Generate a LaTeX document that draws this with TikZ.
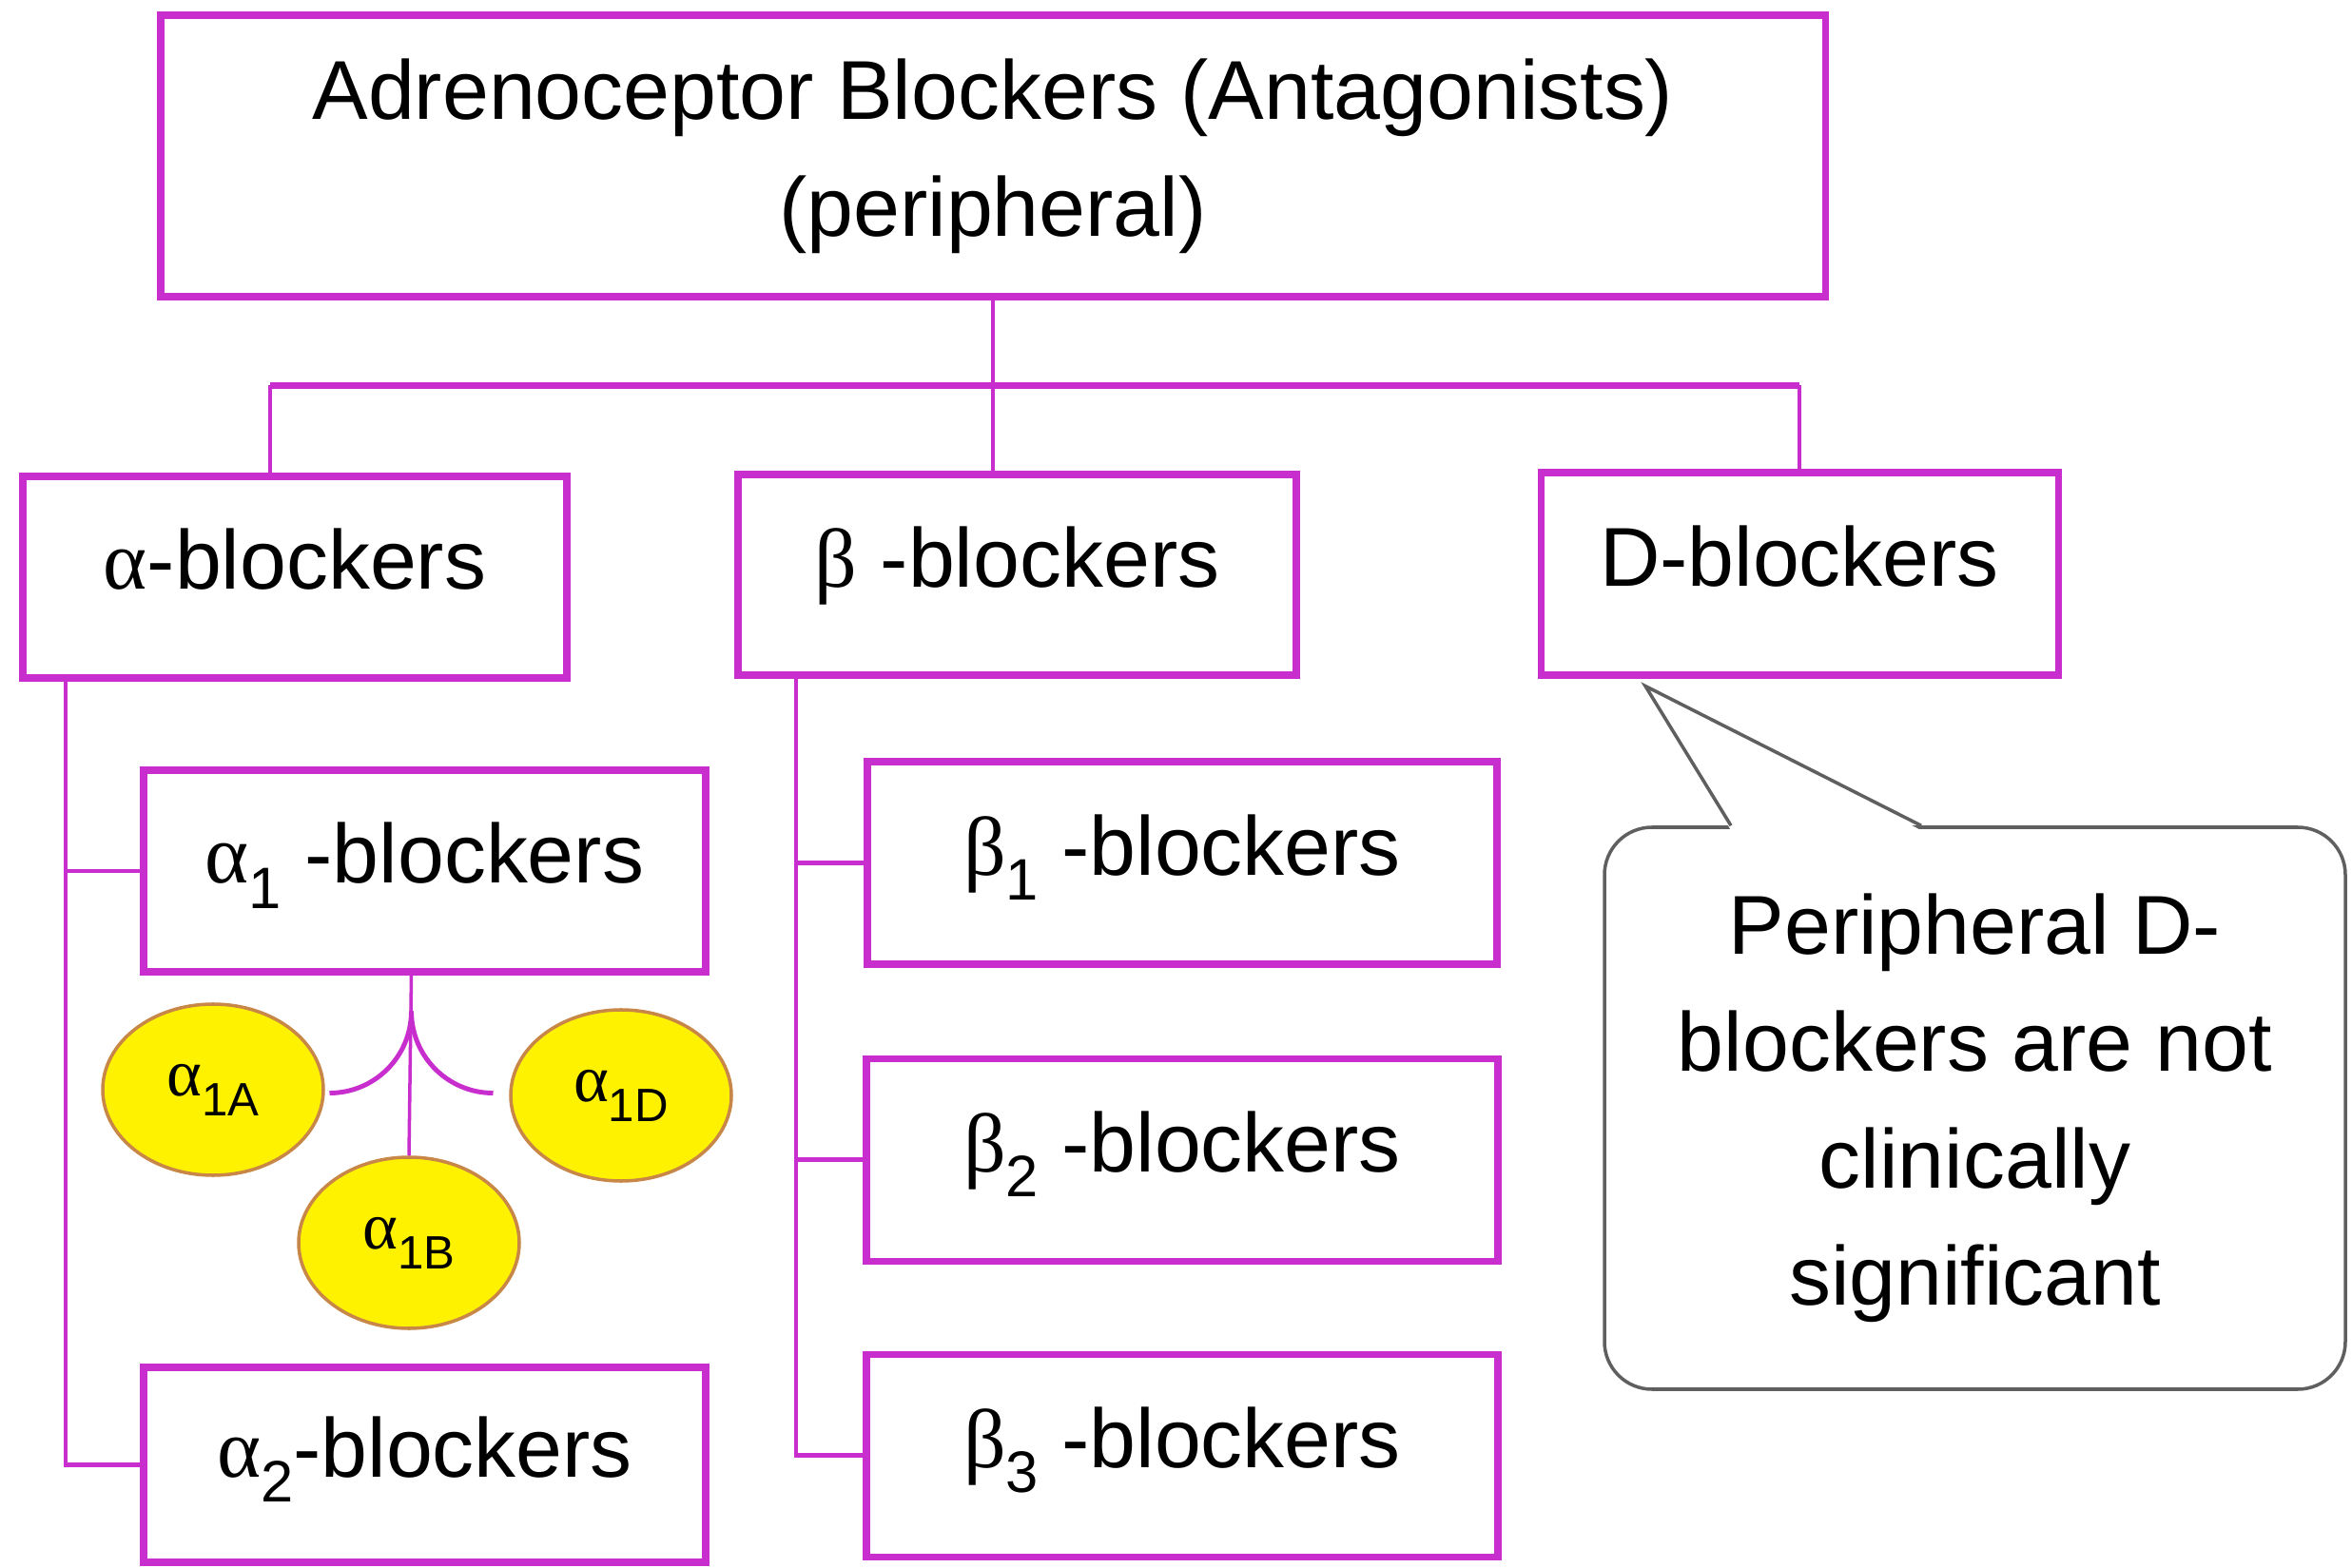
\documentclass[tikz,border=0pt]{standalone}
\usepackage{fontspec}
\setmainfont{Liberation Sans}
\newfontfamily\grk{Liberation Serif}
\usetikzlibrary{positioning, shapes.geometric, calc}

\definecolor{boxmag}{RGB}{200,45,205}
\definecolor{subyellow}{RGB}{255,242,0}
\definecolor{subedge}{RGB}{200,135,70}
\definecolor{notegray}{RGB}{95,95,95}

\newcommand{\alp}{{\grk α}}
\newcommand{\bet}{{\grk β}}
\newcommand{\lo}[1]{\raisebox{-0.3em}{\scalebox{0.7}{#1}}}

\begin{document}
\begin{tikzpicture}[
    node distance = 0.92cm and 1cm,
    headbox/.style = {draw=boxmag, line width=2pt, align=center, minimum width=17.5cm, minimum height=2.96cm, font=\fontsize{25}{35}\selectfont},
    box/.style = {draw=boxmag, line width=2pt, align=center, inner sep=0pt, text height=0.66cm, text depth=0.40cm, font=\fontsize{25}{35}\selectfont},
    receptor/.style = {ellipse, draw=subedge, line width=1pt, fill=subyellow, minimum width=2.32cm, minimum height=1.80cm, inner sep=0pt, font=\fontsize{20}{22}\selectfont},
    link/.style = {draw=boxmag, line width=1.4pt},
    bus/.style = {draw=boxmag, line width=2.2pt},
    bubble/.style = {draw=notegray, line width=1pt, fill=white, rounded corners=0.5cm, align=center, minimum width=7.79cm, minimum height=5.91cm, font=\fontsize{25}{35}\selectfont}
  ]
  \useasboundingbox[fill=white] (0,0) rectangle (24.73,-16.49);

  \node[headbox] (top) at (10.44,-1.64) {Adrenoceptor Blockers (Antagonists)\\(peripheral)};

  \node[box, minimum width=5.72cm, minimum height=2.12cm] (alpha) at (3.10,-6.07) {\alp-blockers};
  \node[box, minimum width=5.87cm, minimum height=2.11cm] (beta) at (10.695,-6.045) {\bet\ -blockers};
  \node[box, minimum width=5.44cm, minimum height=2.13cm] (dbl) at (18.92,-6.035) {D-blockers};

  \node[box, minimum width=5.91cm, minimum height=2.12cm] (a1) at (4.465,-9.16) {\alp\lo{1} -blockers};
  \node[box, minimum width=5.91cm, minimum height=2.05cm] (a2) at (4.465,-15.405) {\alp\lo{2}-blockers};

  \node[box, minimum width=6.62cm, minimum height=2.13cm] (b1) at (12.43,-9.075) {\bet\lo{1} -blockers};
  \node[box, minimum width=6.64cm, minimum height=2.13cm, below=0.92cm of b1] (b2) {\bet\lo{2} -blockers};
  \node[box, minimum width=6.64cm, minimum height=2.13cm, below=0.91cm of b2] (b3) {\bet\lo{3} -blockers};

  \node[receptor] (a1A) at (2.24,-11.46) {\alp\lo{1A}};
  \node[receptor] (a1D) at (6.53,-11.52) {\alp\lo{1D}};
  \node[receptor] (a1B) at (4.30,-13.07) {\alp\lo{1B}};

  \node[bubble] (note) at (20.765,-11.655) {Peripheral D-\\blockers are not\\clinically\\significant};
  \coordinate (tip) at ([xshift=-1.62cm,yshift=-0.08cm]dbl.south);
  \coordinate (pl) at ([xshift=-2.565cm]note.north);
  \coordinate (pr) at ([xshift=-0.565cm]note.north);
  \fill[white] ([yshift=-0.05cm]pl) -- (tip) -- ([yshift=-0.05cm]pr) -- cycle;
  \draw[notegray, line width=1pt] (pl) -- (tip) -- (pr);

  % top level split
  \coordinate (bus) at ($(top.south)!0.5!(beta.north)$);
  \coordinate (adrop) at ([xshift=-0.26cm]alpha.north);
  \draw[link] (top.south) -- (top.south |- beta.north);
  \draw[bus] (adrop |- bus) -- (dbl.north |- bus);
  \draw[link] (adrop |- bus) -- (adrop);
  \draw[link] (dbl.north |- bus) -- (dbl.north);

  % alpha and beta branches
  \coordinate (atrunk) at ([xshift=-2.41cm]alpha.south);
  \draw[link] (atrunk) |- (a1.west);
  \draw[link] (atrunk) |- (a2.west);
  \coordinate (btrunk) at ([xshift=-2.325cm]beta.south);
  \foreach \b in {b1,b2,b3}
    \draw[link] (btrunk) |- (\b.west);

  % alpha1 subtypes
  \coordinate (fork) at ([xshift=-0.14cm]a1.south);
  \draw[link, line width=1pt] (fork) -- (a1B.north);
  \draw[link] (fork) ++(0,-0.38) arc[start angle=0, end angle=-90, radius=0.86cm];
  \draw[link] (fork) ++(0,-0.38) arc[start angle=180, end angle=270, radius=0.86cm];
\end{tikzpicture}
\end{document}
